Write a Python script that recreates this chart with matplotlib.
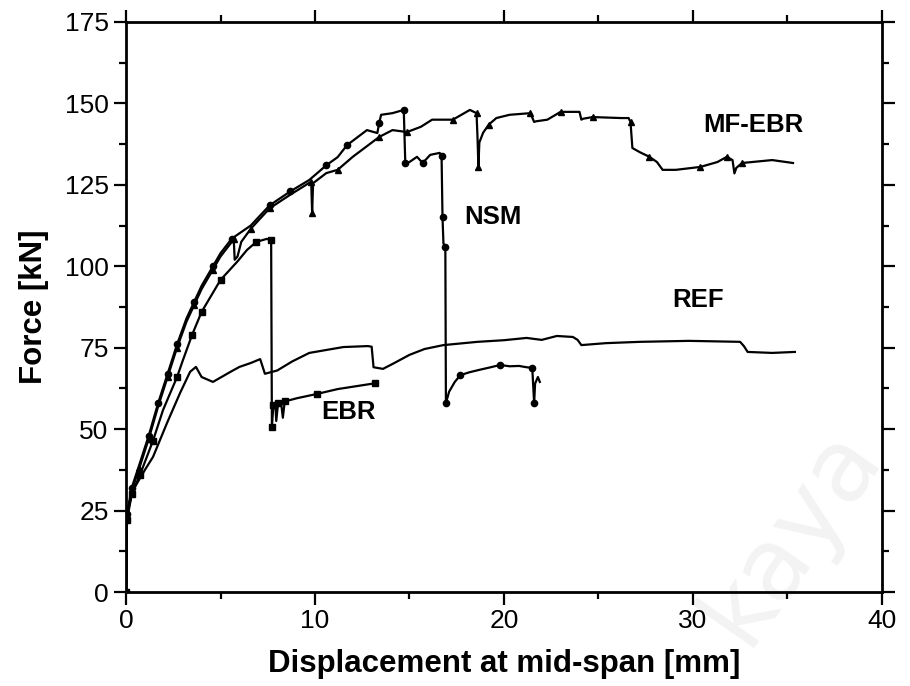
import matplotlib
matplotlib.use("Agg")
import matplotlib.pyplot as plt
from matplotlib.ticker import MultipleLocator

# ---------------- data ----------------
ref_x = [0, 0.05, 0.37, 1.0, 1.43, 2.17, 2.86, 3.39, 3.7, 4.0,
         4.6, 5.5, 6.0, 6.6, 7.1, 7.35, 8.0, 8.8, 9.7, 10.6,
         11.5, 12.8, 13.0, 13.1, 13.6, 14.2, 15.0, 15.8, 16.8, 17.7,
         18.6, 20.0, 21.2, 22.0, 22.8, 23.65, 23.9, 24.1, 25.4, 27.2,
         29.8, 32.5, 32.7, 32.9, 34.2, 35.4]
ref_y = [0, 24, 31.3, 37.5, 41.5, 51.9, 61.1, 67.6, 69.1, 66,
         64.5, 67.5, 69.1, 70.3, 71.5, 67, 68, 70.8, 73.4, 74.3,
         75.2, 75.5, 75.3, 69, 68.5, 70.3, 72.8, 74.6, 75.8, 76.3,
         76.8, 77.3, 78, 77.4, 78.6, 78.3, 77.4, 75.8, 76.4, 76.8,
         77.1, 76.8, 75.5, 73.7, 73.4, 73.7]

ebr_x = [0, 0.05, 0.3, 0.74, 1.43, 1.96, 2.7, 3.0, 3.5, 4.0,
         5.0, 5.9, 6.4, 6.9, 7.45, 7.68, 7.72, 7.8, 7.9, 7.95,
         8.05, 8.2, 8.3, 8.4, 9.05, 10.1, 11.2, 12.2, 13.2]
ebr_y = [0, 22, 30, 36, 46.5, 55.9, 66, 71, 79, 86,
         95.8, 101.5, 105, 107.5, 108.4, 108, 50.7, 57.5, 57.8, 52.5,
         58, 58.5, 53.5, 58.5, 59.5, 60.8, 62.3, 63.2, 64.1]

nsm_x = [0, 0.05, 0.3, 0.7, 1.2, 1.7, 2.2, 2.7, 3.2, 3.6,
         4.0, 4.6, 5.0, 5.6, 6.6, 7.6, 8.7, 9.7, 10.6, 11.2,
         11.7, 12.75, 13.3, 13.4, 13.5, 14.1, 14.7, 14.78, 15.0, 15.4,
         15.7, 16.1, 16.6, 16.7, 16.75, 16.8, 16.9, 16.93, 17.1, 17.4,
         17.7, 18.2, 18.7, 19.3, 19.8, 20.3, 20.8, 21.2, 21.5, 21.6,
         21.65, 21.8, 21.9]
nsm_y = [0, 24, 32, 39, 48, 58, 67, 76, 84, 89,
         94, 100, 104, 108.5, 112.5, 118.7, 123, 126.5, 131, 133.5,
         137.2, 141.8, 140.9, 144, 146.5, 147, 148, 131.7, 132, 133.6,
         131.7, 134.2, 134.8, 134, 115, 107, 106, 58, 61.5, 64.5,
         66.6, 67.5, 68.2, 69, 69.7, 69.3, 69.4, 69, 68.8, 58,
         64, 66, 64.5]

mf_x = [0, 0.05, 0.3, 0.7, 1.2, 1.7, 2.2, 2.7, 3.2, 3.6,
        4.0, 4.6, 5.0, 5.6, 5.7, 5.75, 5.9, 6.1, 6.6, 7.6,
        8.7, 9.75, 9.8, 9.85, 9.9, 10.6, 11.2, 12.0, 13.4, 14.1,
        14.87, 15.6, 16.2, 17.3, 18.2, 18.55, 18.6, 18.65, 18.7, 18.9,
        19.2, 19.6, 20.3, 21.4, 21.6, 21.7, 22.3, 23.0, 24.0, 24.1,
        24.2, 24.7, 26.2, 26.6, 26.7, 26.8, 27.2, 27.7, 28.1, 28.4,
        29.1, 30.4, 31.3, 31.8, 32.1, 32.2, 32.3, 32.6, 34.2, 35.3]
mf_y = [0, 23, 31, 38, 47, 57, 66, 75, 83, 88,
        93, 99, 103, 107.5, 108.5, 102, 103, 107.5, 111.5, 117.8,
        122, 125.8, 126, 116.5, 125.5, 128.6, 129.6, 133.6, 139.7, 141.8,
        141.2, 142.8, 145, 145, 148, 147, 140, 130.5, 138, 141,
        143.5, 145.5, 146.5, 147, 144.3, 144.5, 145, 147.4, 147.4, 145,
        145.3, 145.8, 145.5, 145.5, 144.3, 136.3, 135, 133.6, 132, 129.6,
        129.6, 130.5, 132, 133.6, 132.6, 128.5, 130.2, 131.7, 132.6, 131.7]

labels = ["MF-EBR", "NSM", "REF", "EBR"]
label_x = [33.2, 19.4, 30.3, 11.8]
label_y = [143.4, 115.0, 89.6, 55.3]

x_ticks = [0, 10, 20, 30, 40]
y_ticks = [0, 25, 50, 75, 100, 125, 150, 175]

# ---------------- figure ----------------
tick_font = ['Liberation Sans Narrow', 'Liberation Sans', 'DejaVu Sans']
bold_font = ['Liberation Sans', 'DejaVu Sans']

fig = plt.figure(figsize=(9.1, 6.86), dpi=100)

# faint watermark (behind the axes)
fig.text(0.87, 0.22, "kaya", fontsize=72, color='#f3f3f3', rotation=55,
         ha='center', va='center', zorder=-1)

ax = fig.add_axes([0.1385, 0.137, 0.8305, 0.831])
ax.patch.set_alpha(0)

lw = 1.6
ax.plot(ref_x, ref_y, color='black', lw=lw)
ax.plot(ebr_x, ebr_y, color='black', lw=lw, marker='s', ms=4.5, markevery=0.045)
ax.plot(nsm_x, nsm_y, color='black', lw=lw, marker='o', ms=4.5, markevery=0.04)
ax.plot(mf_x, mf_y, color='black', lw=lw, marker='^', ms=4.5, markevery=0.045)

for t, lx, ly in zip(labels, label_x, label_y):
    ax.text(lx, ly, t, ha='center', va='center', fontsize=18.5,
            fontweight='bold', family=bold_font)

ax.set_xlim(0, 40)
ax.set_ylim(0, 175)
ax.set_xticks(x_ticks)
ax.set_yticks(y_ticks)
ax.xaxis.set_minor_locator(MultipleLocator(5))
ax.yaxis.set_minor_locator(MultipleLocator(12.5))
ax.tick_params(which='both', direction='out', top=True, right=True,
               width=1.6, labelsize=19)
ax.tick_params(which='major', length=9)
ax.tick_params(which='minor', length=5)
for lab in ax.get_xticklabels() + ax.get_yticklabels():
    lab.set_family(tick_font)
for s in ax.spines.values():
    s.set_linewidth(2)

ax.set_xlabel("Displacement at mid-span [mm]", fontsize=22.5, fontweight='bold',
              family=bold_font, labelpad=11)
ax.set_ylabel("Force [kN]", fontsize=22.5, fontweight='bold',
              family=bold_font, labelpad=11)

fig.savefig("out.png", dpi=100)
